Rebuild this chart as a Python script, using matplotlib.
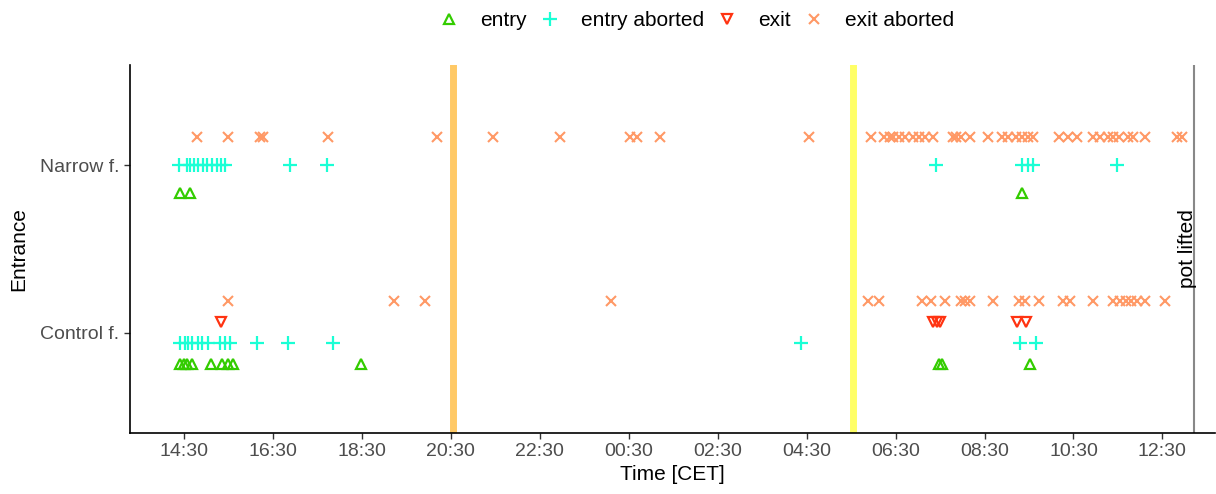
import matplotlib
matplotlib.use("Agg")
import matplotlib.pyplot as plt
import matplotlib.transforms as mtransforms
from matplotlib.lines import Line2D
import pandas as pd

plt.rcParams['font.family'] = ['Liberation Sans', 'DejaVu Sans']

# ---------------- data (times in CET, observation from day 1 afternoon to day 2 noon) ----------------
entrances = ["Control f.", "Narrow f."]
behaviours = ["entry", "entry aborted", "exit", "exit aborted"]

narrow_entry = ["14:25", "14:38", "09:21"]
narrow_entry_aborted = ["14:23", "14:34", "14:38", "14:44", "14:49", "14:56", "15:01", "15:08",
                        "15:15", "15:20", "15:25", "16:53", "17:43", "07:25", "09:21", "09:29",
                        "09:36", "11:29"]
narrow_exit = []
narrow_exit_aborted = ["14:48", "15:29", "16:13", "16:17", "17:44", "20:11", "21:27", "22:57",
                       "00:31", "00:41", "01:12", "04:33", "05:57", "06:14", "06:22", "06:26",
                       "06:34", "06:43", "06:53", "07:01", "07:10", "07:21", "07:47", "07:52",
                       "07:58", "08:10", "08:35", "08:54", "09:02", "09:12", "09:21", "09:29",
                       "09:36", "10:10", "10:22", "10:35", "10:57", "11:06", "11:16", "11:24",
                       "11:31", "11:44", "11:51", "12:07", "12:50", "12:57"]

control_entry = ["14:25", "14:30", "14:34", "14:41", "15:06", "15:21", "15:29", "15:36",
                 "18:29", "07:28", "07:32", "09:31"]
control_entry_aborted = ["14:25", "14:31", "14:35", "14:41", "14:49", "14:54", "15:02", "15:19",
                         "15:25", "15:32", "16:08", "16:50", "17:51", "04:23", "09:18", "09:39"]
control_exit = ["15:20", "07:21", "07:26", "07:30", "09:14", "09:26"]
control_exit_aborted = ["15:29", "19:13", "19:55", "00:06", "05:53", "06:07", "07:06", "07:18",
                        "07:37", "07:58", "08:04", "08:11", "08:42", "09:17", "09:24", "09:44",
                        "10:16", "10:26", "10:57", "11:24", "11:33", "11:41", "11:48", "11:56",
                        "12:06", "12:34"]

sunset_time = "20:33"
sunrise_time = "05:32"
pot_lifted_time = "13:12"

tick_labels = ["14:30", "16:30", "18:30", "20:30", "22:30", "00:30", "02:30",
               "04:30", "06:30", "08:30", "10:30", "12:30"]
x_start = "13:17"   # day 1
x_end = "13:41"     # day 2

DAY1, DAY2 = "2021-06-10", "2021-06-11"


def ts(hhmm, day=None):
    h = int(hhmm.split(":")[0])
    if day is None:
        day = DAY1 if h >= 14 else DAY2
    return pd.Timestamp(f"{day} {hhmm}")


data = {
    "Narrow f.": {"entry": narrow_entry, "entry aborted": narrow_entry_aborted,
                  "exit": narrow_exit, "exit aborted": narrow_exit_aborted},
    "Control f.": {"entry": control_entry, "entry aborted": control_entry_aborted,
                   "exit": control_exit, "exit aborted": control_exit_aborted},
}

styles = {
    "entry": dict(marker="^", color="#33CC00", ms=7.5, mew=1.6, fillstyle="none"),
    "entry aborted": dict(marker="+", color="#1AFFD5", ms=10, mew=1.6),
    "exit": dict(marker="v", color="#FF3311", ms=7.5, mew=1.6, fillstyle="none"),
    "exit aborted": dict(marker="x", color="#FF9966", ms=7, mew=1.5),
}

fig = plt.figure(figsize=(12.16, 4.94), dpi=100)
ax = fig.add_axes([130 / 1216, 61 / 494, 1085 / 1216, 368 / 494])

# vertical reference lines
ax.axvline(ts(sunset_time), color="#FFC966", lw=5, zorder=1)
ax.axvline(ts(sunrise_time), color="#FFFF66", lw=5, zorder=1)
ax.axvline(ts(pot_lifted_time), color="#888888", lw=1.5, zorder=1)
txt_tr = mtransforms.offset_copy(ax.transData, fig=fig, x=-6, y=0, units="dots")
ax.text(ts(pot_lifted_time), 1.5, "pot lifted", rotation=90, transform=txt_tr,
        ha="center", va="center", fontsize=15, color="black")

# dodged points
width = 0.5
for yi, ent in enumerate(entrances, start=1):
    present = [b for b in behaviours if len(data[ent][b]) > 0]
    n = len(present)
    for k, b in enumerate(present):
        off = -width / 2 + width * (k + 0.5) / n
        xs = [ts(t) for t in data[ent][b]]
        ax.plot(xs, [yi + off] * len(xs), linestyle="none", zorder=3, **styles[b])

ax.set_ylim(0.4, 2.6)
ax.set_yticks([1, 2])
ax.set_yticklabels(entrances)

ax.set_xlim(ts(x_start, DAY1), ts(x_end, DAY2))
ticks = [ts(t) for t in tick_labels]
ax.set_xticks(ticks)
ax.set_xticklabels(tick_labels)

for s in ["top", "right"]:
    ax.spines[s].set_visible(False)
for s in ["left", "bottom"]:
    ax.spines[s].set_linewidth(1.2)
    ax.spines[s].set_color("black")
ax.tick_params(axis="both", labelsize=14, colors="#4D4D4D", length=4, width=1)
ax.tick_params(axis="both", which="both", color="#333333")

ax.set_xlabel("Time [CET]", fontsize=15, labelpad=3)
ax.set_ylabel("Entrance", fontsize=15, labelpad=8)
ax.yaxis.set_label_coords(-102 / 1085, 0.5)

handles = [Line2D([], [], linestyle="none", **styles[b]) for b in behaviours]
fig.legend(handles, behaviours, loc="upper center", bbox_to_anchor=(0.572, 1.015), ncol=4,
           frameon=False, fontsize=15, handlelength=1.2, handletextpad=0.9,
           columnspacing=0.5)

fig.savefig("out.png", dpi=100)
